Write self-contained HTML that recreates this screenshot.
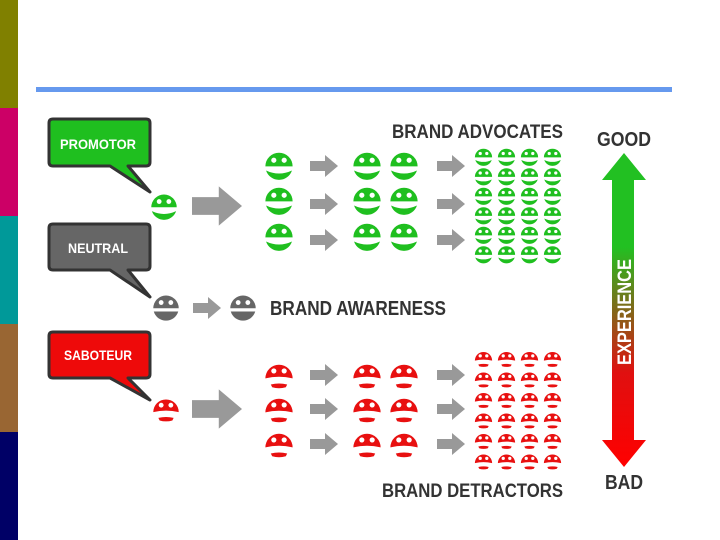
<!DOCTYPE html><html><head><style>
body{margin:0;width:720px;height:540px;background:#fff;overflow:hidden}
svg{display:block}
text{font-family:"Liberation Sans",sans-serif;font-weight:bold}
</style></head><body>
<svg width="720" height="540" viewBox="0 0 720 540">
<defs>
<symbol id="h" viewBox="-11 -11 22 22" overflow="visible"><path d="M-10,1 A10,10 0 0 1 10,1 Z" fill="#1fbf1f"/><circle cx="-3.8" cy="-3.5" r="1.9" fill="#fff"/><circle cx="3.8" cy="-3.5" r="1.9" fill="#fff"/><path d="M-9.5,4 A10,10 0 0 0 9.5,4 Q0,8.5 -9.5,4Z" fill="#1fbf1f"/></symbol>
<symbol id="s" viewBox="-11 -11 22 22" overflow="visible"><path d="M-10,2.5 A10,10 0 1 1 10,2.5 Q0,0 -10,2.5Z" fill="#e81010"/><circle cx="-3.8" cy="-3" r="1.9" fill="#fff"/><circle cx="3.8" cy="-3" r="1.9" fill="#fff"/><path d="M-6,7 Q0,5.5 6,7 L5,9 Q0,10.5 -5,9Z" fill="#e81010"/></symbol>
<symbol id="n" viewBox="-11 -11 22 22" overflow="visible"><path d="M-10,1 A10,10 0 0 1 10,1 Z" fill="#666"/><circle cx="-3.8" cy="-3.5" r="1.9" fill="#fff"/><circle cx="3.8" cy="-3.5" r="1.9" fill="#fff"/><path d="M-9.6,3.5 L9.6,3.5 A10,10 0 0 1 -9.6,3.5Z" fill="#666"/></symbol>
<symbol id="a" viewBox="0 0 28 22" overflow="visible"><path d="M0,6 H15 V0 L28,11 L15,22 V16 H0Z" fill="#999"/></symbol>
<linearGradient id="g" x1="0" y1="0" x2="0" y2="1"><stop offset="0" stop-color="#22c022"/><stop offset="0.3" stop-color="#22c022"/><stop offset="0.7" stop-color="#e01010"/><stop offset="1" stop-color="#ff0000"/></linearGradient>
</defs>
<rect x="0" y="0" width="18" height="108" fill="#808000"/>
<rect x="0" y="108" width="18" height="108" fill="#cc0066"/>
<rect x="0" y="216" width="18" height="108" fill="#009999"/>
<rect x="0" y="324" width="18" height="108" fill="#996633"/>
<rect x="0" y="432" width="18" height="108" fill="#000066"/>
<rect x="36" y="87" width="636" height="5" fill="#6699ee"/>

<!-- bubbles -->
<path d="M53,119 H146 Q150,119 150,123 V162 Q150,166 146,166 H128 L150,192 L110,166 H53 Q49,166 49,162 V123 Q49,119 53,119Z" fill="#1fbf1f" stroke="#333" stroke-width="3" stroke-linejoin="round"/>
<text x="98" y="149" fill="#fff" font-size="14" text-anchor="middle" textLength="76" lengthAdjust="spacingAndGlyphs">PROMOTOR</text>
<path d="M53,224 H146 Q150,224 150,228 V266 Q150,270 146,270 H128 L150,297 L110,270 H53 Q49,270 49,266 V228 Q49,224 53,224Z" fill="#666" stroke="#333" stroke-width="3" stroke-linejoin="round"/>
<text x="98" y="253" fill="#fff" font-size="14" text-anchor="middle" textLength="60" lengthAdjust="spacingAndGlyphs">NEUTRAL</text>
<path d="M53,332 H146 Q150,332 150,336 V374 Q150,378 146,378 H128 L150,400 L110,378 H53 Q49,378 49,374 V336 Q49,332 53,332Z" fill="#ee0a0a" stroke="#333" stroke-width="3" stroke-linejoin="round"/>
<text x="98" y="360" fill="#fff" font-size="14" text-anchor="middle" textLength="68" lengthAdjust="spacingAndGlyphs">SABOTEUR</text>

<!-- green -->
<use href="#h" x="150" y="192" width="28" height="28"/>
<use href="#a" x="192" y="186" width="50" height="40"/>
<use href="#h" x="264" y="150" width="30" height="30"/>
<use href="#h" x="264" y="185" width="30" height="30"/>
<use href="#h" x="264" y="221" width="30" height="30"/>
<use href="#a" x="310" y="155" width="28" height="22"/>
<use href="#a" x="310" y="193" width="28" height="22"/>
<use href="#a" x="310" y="229" width="28" height="22"/>
<use href="#h" x="352" y="150" width="30" height="30"/>
<use href="#h" x="352" y="185" width="30" height="30"/>
<use href="#h" x="352" y="221" width="30" height="30"/>
<use href="#h" x="389" y="150" width="30" height="30"/>
<use href="#h" x="389" y="185" width="30" height="30"/>
<use href="#h" x="389" y="221" width="30" height="30"/>
<use href="#a" x="437" y="155" width="28" height="22"/>
<use href="#a" x="437" y="193" width="28" height="22"/>
<use href="#a" x="437" y="229" width="28" height="22"/>
<g id="gg">
<use href="#h" x="474" y="147" width="19" height="19"/><use href="#h" x="497" y="147" width="19" height="19"/><use href="#h" x="520" y="147" width="19" height="19"/><use href="#h" x="543" y="147" width="19" height="19"/>
<use href="#h" x="474" y="166.5" width="19" height="19"/><use href="#h" x="497" y="166.5" width="19" height="19"/><use href="#h" x="520" y="166.5" width="19" height="19"/><use href="#h" x="543" y="166.5" width="19" height="19"/>
<use href="#h" x="474" y="186" width="19" height="19"/><use href="#h" x="497" y="186" width="19" height="19"/><use href="#h" x="520" y="186" width="19" height="19"/><use href="#h" x="543" y="186" width="19" height="19"/>
<use href="#h" x="474" y="205.5" width="19" height="19"/><use href="#h" x="497" y="205.5" width="19" height="19"/><use href="#h" x="520" y="205.5" width="19" height="19"/><use href="#h" x="543" y="205.5" width="19" height="19"/>
<use href="#h" x="474" y="225" width="19" height="19"/><use href="#h" x="497" y="225" width="19" height="19"/><use href="#h" x="520" y="225" width="19" height="19"/><use href="#h" x="543" y="225" width="19" height="19"/>
<use href="#h" x="474" y="244.5" width="19" height="19"/><use href="#h" x="497" y="244.5" width="19" height="19"/><use href="#h" x="520" y="244.5" width="19" height="19"/><use href="#h" x="543" y="244.5" width="19" height="19"/>
</g>
<text x="563" y="138" fill="#333" font-size="19" text-anchor="end" textLength="171" lengthAdjust="spacingAndGlyphs">BRAND ADVOCATES</text>

<!-- neutral -->
<use href="#n" x="152" y="293" width="28" height="28"/>
<use href="#a" x="193" y="297" width="28" height="22"/>
<use href="#n" x="229" y="293" width="28" height="28"/>
<text x="270" y="315" fill="#333" font-size="20" textLength="176" lengthAdjust="spacingAndGlyphs">BRAND AWARENESS</text>

<!-- red -->
<use href="#s" x="152" y="395" width="28" height="28"/>
<use href="#a" x="192" y="389" width="50" height="40"/>
<use href="#s" x="264" y="360" width="30" height="30"/>
<use href="#s" x="264" y="394" width="30" height="30"/>
<use href="#s" x="264" y="429" width="30" height="30"/>
<use href="#a" x="310" y="364" width="28" height="22"/>
<use href="#a" x="310" y="398" width="28" height="22"/>
<use href="#a" x="310" y="433" width="28" height="22"/>
<use href="#s" x="352" y="360" width="30" height="30"/>
<use href="#s" x="352" y="394" width="30" height="30"/>
<use href="#s" x="352" y="429" width="30" height="30"/>
<use href="#s" x="389" y="360" width="30" height="30"/>
<use href="#s" x="389" y="394" width="30" height="30"/>
<use href="#s" x="389" y="429" width="30" height="30"/>
<use href="#a" x="437" y="364" width="28" height="22"/>
<use href="#a" x="437" y="398" width="28" height="22"/>
<use href="#a" x="437" y="433" width="28" height="22"/>
<use href="#gr" x="0" y="0"/>
<g>
<use href="#s" x="474" y="349" width="19" height="19"/><use href="#s" x="497" y="349" width="19" height="19"/><use href="#s" x="520" y="349" width="19" height="19"/><use href="#s" x="543" y="349" width="19" height="19"/>
<use href="#s" x="474" y="369.5" width="19" height="19"/><use href="#s" x="497" y="369.5" width="19" height="19"/><use href="#s" x="520" y="369.5" width="19" height="19"/><use href="#s" x="543" y="369.5" width="19" height="19"/>
<use href="#s" x="474" y="390" width="19" height="19"/><use href="#s" x="497" y="390" width="19" height="19"/><use href="#s" x="520" y="390" width="19" height="19"/><use href="#s" x="543" y="390" width="19" height="19"/>
<use href="#s" x="474" y="410.5" width="19" height="19"/><use href="#s" x="497" y="410.5" width="19" height="19"/><use href="#s" x="520" y="410.5" width="19" height="19"/><use href="#s" x="543" y="410.5" width="19" height="19"/>
<use href="#s" x="474" y="431" width="19" height="19"/><use href="#s" x="497" y="431" width="19" height="19"/><use href="#s" x="520" y="431" width="19" height="19"/><use href="#s" x="543" y="431" width="19" height="19"/>
<use href="#s" x="474" y="451.5" width="19" height="19"/><use href="#s" x="497" y="451.5" width="19" height="19"/><use href="#s" x="520" y="451.5" width="19" height="19"/><use href="#s" x="543" y="451.5" width="19" height="19"/>
</g>
<text x="563" y="497" fill="#333" font-size="19" text-anchor="end" textLength="181" lengthAdjust="spacingAndGlyphs">BRAND DETRACTORS</text>

<!-- experience -->
<text x="624" y="146" fill="#333" font-size="20" text-anchor="middle" textLength="54" lengthAdjust="spacingAndGlyphs">GOOD</text>
<path d="M624,153 L646,180 H634 V440 H646 L624,467 L602,440 H612 V180 H602Z" fill="url(#g)"/>
<text transform="translate(631,312) rotate(-90)" fill="#fff" font-size="19" text-anchor="middle" textLength="106" lengthAdjust="spacingAndGlyphs">EXPERIENCE</text>
<text x="624" y="489" fill="#333" font-size="20" text-anchor="middle" textLength="38" lengthAdjust="spacingAndGlyphs">BAD</text>
</svg>
</body></html>
